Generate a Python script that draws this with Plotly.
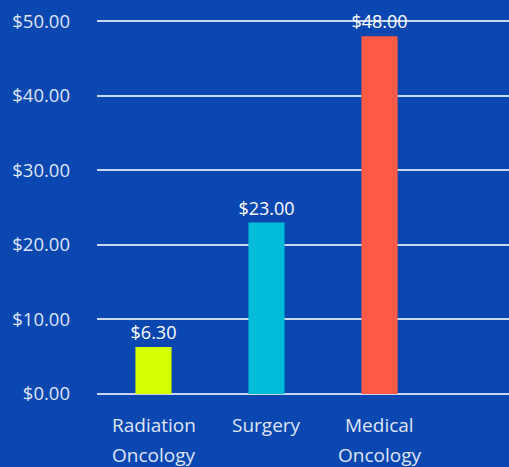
import plotly.graph_objects as go

categories = ["Radiation<br>Oncology", "Surgery", "Medical<br>Oncology"]
values = [6.30, 23.00, 48.00]
colors = ["#d4ff00", "#00bcd8", "#ff5a45"]
tick_vals = [0, 10, 20, 30, 40, 50]
tick_text = ["$0.00", "$10.00", "$20.00", "$30.00", "$40.00", "$50.00"]

FONT = "Open Sans"
GRID = "rgba(235,240,250,0.85)"
fig = go.Figure(go.Bar(
    x=[0, 1, 2], y=values,
    marker=dict(color=colors, line=dict(width=0)),
    width=0.32,
    text=["$%.2f" % v for v in values],
    textposition="outside",
    constraintext="none",
    textfont=dict(color="#ffffff", size=18, family=FONT),
    cliponaxis=False,
))

annotations = []
for i, cat in enumerate(categories):
    for j, line in enumerate(cat.split("<br>")):
        annotations.append(dict(
            x=i, y=0, xref="x", yref="paper", text=line, showarrow=False,
            yanchor="middle", xanchor="center", yshift=-31 - 30 * j,
            font=dict(size=19, family=FONT, color="#dfe5f5"),
        ))

fig.update_layout(
    width=509, height=467,
    margin=dict(l=97, r=0, t=19, b=73),
    paper_bgcolor="#0a47b1", plot_bgcolor="#0a47b1",
    showlegend=False,
    font=dict(family=FONT, color="#dfe5f5", size=17),
    annotations=annotations,
    xaxis=dict(range=[-0.5, 3.146], tickvals=[0, 1, 2], showticklabels=False,
               showgrid=False, zeroline=False, showline=False, ticks=""),
    yaxis=dict(range=[0, 50.3], tickvals=tick_vals, ticktext=tick_text,
               showgrid=True, gridcolor=GRID, gridwidth=1.5,
               zeroline=True, zerolinecolor=GRID, zerolinewidth=1.5,
               showline=False, ticklabelstandoff=26,
               tickfont=dict(size=18.5)),
)
fig.write_html("out.html", config={"displayModeBar": False})

with open("out.html", "r", encoding="utf-8") as f:
    html = f.read()
html = html.replace("<head>", "<head><style>html,body{margin:0;padding:0;overflow:hidden;}</style>", 1)
with open("out.html", "w", encoding="utf-8") as f:
    f.write(html)
